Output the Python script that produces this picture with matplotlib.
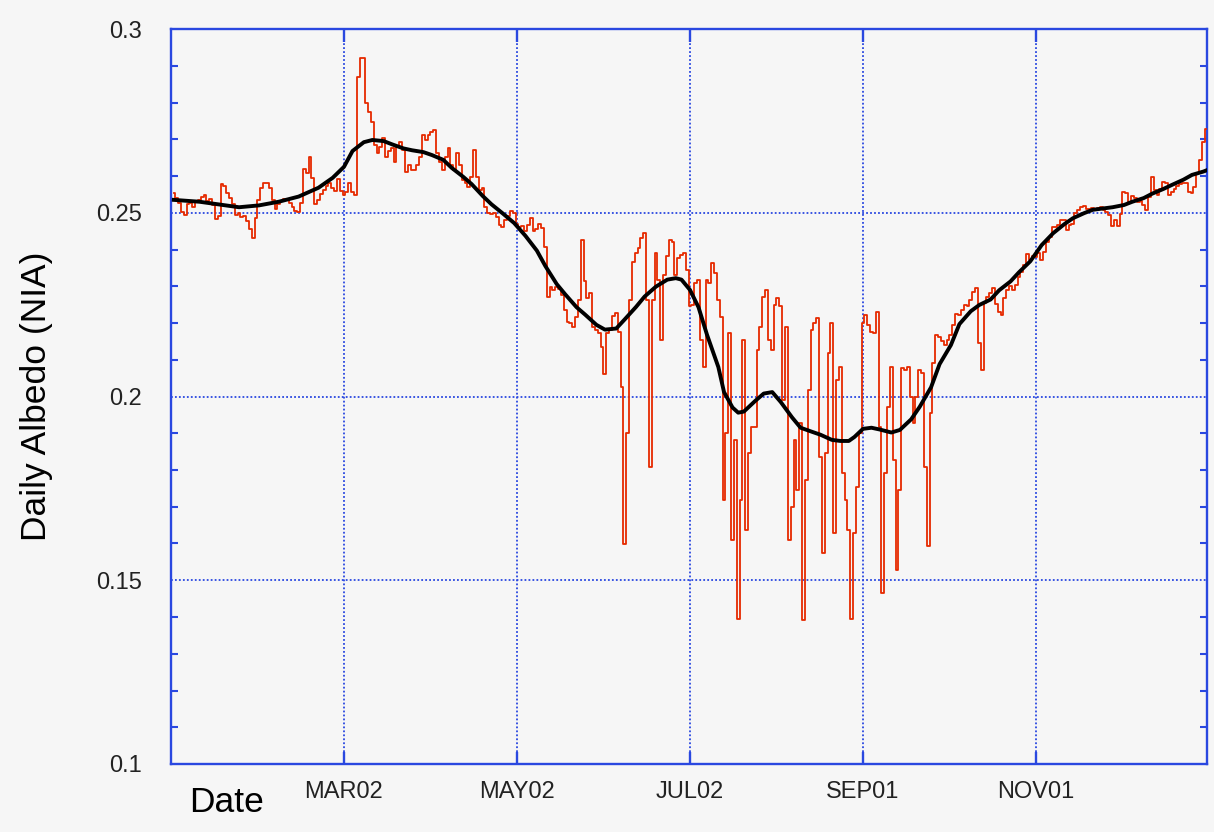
import numpy as np
import matplotlib
matplotlib.use('Agg')
import matplotlib.pyplot as plt
from matplotlib.ticker import MultipleLocator, FixedLocator

# daily albedo, one value per day starting Jan 1
albedo = [
    0.2553, 0.2541, 0.2527, 0.2502, 0.2493, 0.2523, 0.2527, 0.2516, 0.2529, 0.2536,
    0.2543, 0.2547, 0.2532, 0.2538, 0.2520, 0.2482, 0.2491, 0.2577, 0.2573, 0.2553,
    0.2541, 0.2523, 0.2493, 0.2500, 0.2489, 0.2491, 0.2477, 0.2455, 0.2432, 0.2486,
    0.2536, 0.2568, 0.2580, 0.2582, 0.2568, 0.2536, 0.2509, 0.2523, 0.2532, 0.2538,
    0.2536, 0.2527, 0.2516, 0.2505, 0.2502, 0.2527, 0.2618, 0.2609, 0.2653, 0.2595,
    0.2523, 0.2536, 0.2550, 0.2562, 0.2573, 0.2580, 0.2568, 0.2559, 0.2591, 0.2559,
    0.2548, 0.2557, 0.2580, 0.2557, 0.2548, 0.2870, 0.2920, 0.2920, 0.2798, 0.2775,
    0.2748, 0.2684, 0.2662, 0.2680, 0.2703, 0.2653, 0.2667, 0.2676, 0.2639, 0.2680,
    0.2693, 0.2671, 0.2612, 0.2630, 0.2616, 0.2616, 0.2630, 0.2653, 0.2712, 0.2698,
    0.2712, 0.2721, 0.2725, 0.2662, 0.2639, 0.2616, 0.2653, 0.2676, 0.2630, 0.2616,
    0.2662, 0.2630, 0.2589, 0.2580, 0.2571, 0.2598, 0.2671, 0.2598, 0.2562, 0.2567,
    0.2517, 0.2500, 0.2497, 0.2500, 0.2489, 0.2467, 0.2462, 0.2479, 0.2491, 0.2506,
    0.2498,
    0.2469, 0.2462, 0.2464, 0.2449, 0.2467, 0.2485, 0.2449, 0.2455, 0.2469, 0.2458,
    0.2408, 0.2272, 0.2297, 0.2290, 0.2297, 0.2292, 0.2276, 0.2235, 0.2204, 0.2199,
    0.2190, 0.2217, 0.2263, 0.2426, 0.2313, 0.2267, 0.2281, 0.2190, 0.2181, 0.2172,
    0.2136, 0.2060, 0.2172, 0.2181, 0.2218, 0.2226, 0.2176, 0.2027, 0.1600, 0.1900,
    0.2263, 0.2367, 0.2390, 0.2403, 0.2430, 0.2444, 0.2263, 0.1809, 0.2263, 0.2390,
    0.2317, 0.2154, 0.2331, 0.2381, 0.2426, 0.2421, 0.2331, 0.2376, 0.2385, 0.2390,
    0.2344,
    0.2245, 0.2249, 0.2308, 0.2317, 0.2154, 0.2081, 0.2317, 0.2308, 0.2362, 0.2335,
    0.2263, 0.2217, 0.1718, 0.1900, 0.2172, 0.1610, 0.1882, 0.1395, 0.1718, 0.2154,
    0.1637, 0.1845, 0.1918, 0.1918, 0.2127, 0.2190, 0.2272, 0.2290, 0.2154, 0.2127,
    0.2249, 0.2267, 0.2245, 0.1991, 0.2190, 0.1610, 0.1700, 0.1882, 0.1746, 0.1927,
    0.1392, 0.1773, 0.2018, 0.2181, 0.2199, 0.2213, 0.1836, 0.1573, 0.1845, 0.2118,
    0.2199, 0.1628, 0.2045, 0.2081, 0.1791, 0.1718, 0.1637, 0.1395, 0.1628, 0.1755,
    0.1900, 0.2199,
    0.2222, 0.2195, 0.2176, 0.2172, 0.2231, 0.1918, 0.1465, 0.1791, 0.1972, 0.2081,
    0.1827, 0.1528, 0.1746, 0.2077, 0.2072, 0.2081, 0.2000, 0.1927, 0.2000, 0.2072,
    0.2063, 0.1809, 0.1592, 0.1954, 0.2090, 0.2167, 0.2163, 0.2152, 0.2140, 0.2154,
    0.2167, 0.2195, 0.2225, 0.2222, 0.2235, 0.2249, 0.2245, 0.2263, 0.2285, 0.2294,
    0.2145, 0.2072, 0.2254, 0.2272, 0.2281, 0.2294, 0.2253, 0.2231, 0.2222, 0.2267,
    0.2290, 0.2301, 0.2290, 0.2303, 0.2324, 0.2340, 0.2358, 0.2388, 0.2371, 0.2382,
    0.2380, 0.2390, 0.2372, 0.2394, 0.2421, 0.2433, 0.2462, 0.2462, 0.2466, 0.2480,
    0.2480, 0.2453, 0.2466, 0.2469, 0.2498, 0.2508, 0.2515, 0.2519, 0.2510, 0.2511,
    0.2514, 0.2508, 0.2513, 0.2515, 0.2508, 0.2503, 0.2494, 0.2464, 0.2480, 0.2464,
    0.2496, 0.2557, 0.2553, 0.2530, 0.2546, 0.2539, 0.2528, 0.2533, 0.2521, 0.2508,
    0.2544, 0.2598, 0.2562, 0.2548, 0.2564, 0.2585, 0.2582, 0.2548, 0.2557, 0.2564,
    0.2573, 0.2578, 0.2580, 0.2582, 0.2557, 0.2553, 0.2571, 0.2607, 0.2644, 0.2693,
    0.2727,
]

# smoothed albedo curve
smooth_day = [0, 9, 23, 30, 37, 44, 51, 56, 60, 63, 67, 70, 74, 77, 81, 84, 88, 91,
              95, 98, 102, 105, 109, 112, 116, 120, 124, 128, 131, 135, 138, 142,
              145, 149, 152, 156, 159, 163, 166, 170, 174, 177, 179, 182, 185, 188,
              192, 194, 197, 199, 201, 205, 208, 211, 214, 218, 221, 225, 228, 232,
              235, 238, 240, 243, 246, 249, 253, 256, 260, 263, 267, 270, 274, 277,
              281, 284, 288, 291, 295, 298, 302, 306, 310, 314, 317, 321, 324, 328,
              331, 335, 338, 342, 345, 349, 352, 356, 359, 363, 364]
smooth_val = [0.2535, 0.2530, 0.2515, 0.2520, 0.2530, 0.2544, 0.2568, 0.2595, 0.2625,
              0.2668, 0.2692, 0.2698, 0.2695, 0.2686, 0.2675, 0.2670, 0.2665, 0.2657,
              0.2644, 0.2622, 0.2598, 0.2578, 0.2545, 0.2523, 0.2498, 0.2472, 0.2437,
              0.2397, 0.2355, 0.2306, 0.2278, 0.2243, 0.2223, 0.2195, 0.2182, 0.2185,
              0.2210, 0.2244, 0.2272, 0.2299, 0.2318, 0.2322, 0.2318, 0.2290, 0.2243,
              0.2168, 0.2080, 0.2012, 0.1970, 0.1956, 0.1959, 0.1988, 0.2008, 0.2012,
              0.1985, 0.1943, 0.1915, 0.1904, 0.1896, 0.1882, 0.1879, 0.1879, 0.1890,
              0.1912, 0.1915, 0.1910, 0.1902, 0.1909, 0.1938, 0.1972, 0.2025, 0.2088,
              0.2140, 0.2197, 0.2232, 0.2249, 0.2264, 0.2289, 0.2313, 0.2338, 0.2368,
              0.2412, 0.2444, 0.2469, 0.2485, 0.2499, 0.2508, 0.2512, 0.2515, 0.2521,
              0.2530, 0.2540, 0.2552, 0.2565, 0.2576, 0.2590, 0.2603, 0.2612, 0.2615]

tick_days = [60, 121, 182, 243, 304]
tick_labels = ['MAR02', 'MAY02', 'JUL02', 'SEP01', 'NOV01']
y_ticks = [0.1, 0.15, 0.2, 0.25, 0.3]
y_labels = ['0.1', '0.15', '0.2', '0.25', '0.3']

blue = '#2a48e0'
bg = '#f6f6f6'
plt.rcParams['font.family'] = ['Liberation Sans', 'DejaVu Sans']

fig = plt.figure(figsize=(12.14, 8.32), dpi=100, facecolor=bg)
ax = fig.add_axes([171 / 1214, 68 / 832, 1036 / 1214, 735 / 832])
ax.set_facecolor(bg)

days = np.arange(len(albedo))
ax.plot(days, albedo, color='#e62a00', lw=1.3, drawstyle='steps-mid', zorder=3)
ax.plot(smooth_day, smooth_val, color='black', lw=2.8, zorder=4)

ax.set_xlim(-1, 364.3)
ax.set_ylim(0.1, 0.3)

ax.xaxis.set_major_locator(FixedLocator(tick_days))
ax.set_xticklabels(tick_labels)
ax.yaxis.set_major_locator(FixedLocator(y_ticks))
ax.set_yticklabels(y_labels)
ax.yaxis.set_minor_locator(MultipleLocator(0.01))

ax.grid(True, which='major', color=blue, linestyle=(0, (1, 1.2)), lw=1.3, zorder=1)
for s in ax.spines.values():
    s.set_color(blue)
    s.set_linewidth(1.7)

ax.tick_params(axis='x', which='major', direction='in', length=9, width=1.7,
               color=blue, top=True, labelsize=17, pad=12, labelcolor='#222222')
ax.tick_params(axis='y', which='major', direction='in', length=0, right=True,
               labelsize=17, pad=21, labelcolor='#222222')
ax.tick_params(axis='y', which='minor', direction='in', length=5, width=1.5,
               color=blue, right=True)

fig.text(37 / 1214, 1 - 396 / 832, 'Daily Albedo (NIA)', rotation=90,
         ha='center', va='center', fontsize=25.5, color='black')
fig.text(189 / 1214, 1 - 803 / 832, 'Date', ha='left', va='center',
         fontsize=25.5, color='black')

fig.savefig('out.png', dpi=100, facecolor=bg)
